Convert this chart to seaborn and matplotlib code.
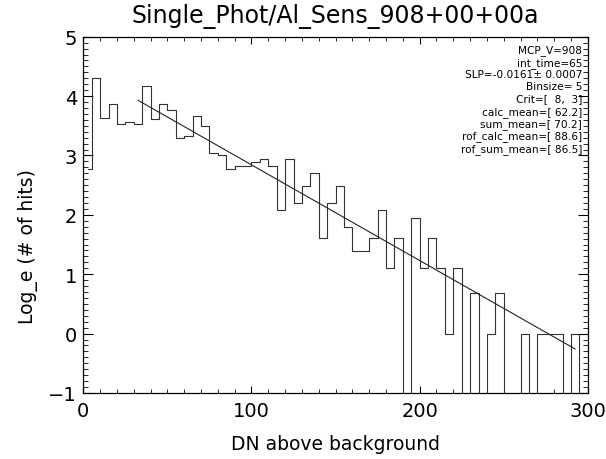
import numpy as np
import pandas as pd
import matplotlib
matplotlib.use("Agg")
import matplotlib.pyplot as plt
import seaborn as sns
from matplotlib.ticker import MultipleLocator

# ---- data ----
EMPTY = -5.0  # log_e(0): below the axis
bin_centers = [2.5 + 5 * i for i in range(60)]
log_hits = [
    2.77, 4.30, 3.63, 3.87, 3.53, 3.56, 3.53, 4.17, 3.61, 3.87,
    3.76, 3.30, 3.33, 3.66, 3.50, 3.04, 3.00, 2.77, 2.83, 2.83,
    2.89, 2.94, 2.83, 2.08, 2.94, 2.20, 2.48, 2.71, 1.61, 2.20,
    2.48, 1.79, 1.39, 1.39, 1.61, 2.08, 1.10, 1.61, EMPTY, 1.95,
    1.10, 1.61, 1.10, 0.00, 1.10, EMPTY, 0.69, EMPTY, 0.00, 0.69,
    EMPTY, EMPTY, 0.00, EMPTY, 0.00, 0.00, 0.00, EMPTY, 0.00, EMPTY,
]
fit_x = [32.5, 292.5]
fit_y = [3.93, -0.26]

title = "Single_Phot/Al_Sens_908+00+00a"
xlabel = "DN above background"
ylabel = "Log_e (# of hits)"
info_lines = [
    "MCP_V=908",
    "int_time=65",
    "SLP=-0.0161\u00b1 0.0007",
    "Binsize= 5",
    "Crit=[  8,  3]",
    "calc_mean=[ 62.2]",
    "sum_mean=[ 70.2]",
    "rof_calc_mean=[ 88.6]",
    "rof_sum_mean=[ 86.5]",
]
xticks = [0, 100, 200, 300]
yticks = [-1, 0, 1, 2, 3, 4, 5]

# ---- plot ----
sns.set_theme(style="ticks")
plt.rcParams["font.family"] = ["DejaVu Sans"]

fig = plt.figure(figsize=(6.06, 4.60), dpi=100)
ax = fig.add_axes([0.1375, 0.1435, 0.8325, 0.7745])

df = pd.DataFrame({"x": bin_centers, "y": log_hits})
sns.lineplot(data=df, x="x", y="y", ax=ax, estimator=None, sort=False,
             drawstyle="steps-mid", color="#333333", linewidth=0.8)
sns.lineplot(x=fit_x, y=fit_y, ax=ax, estimator=None, color="#222222",
             linewidth=0.8)

ax.set_xlim(0, 300)
ax.set_ylim(-1, 5)
ax.set_xticks(xticks)
ax.set_yticks(yticks)
ax.xaxis.set_minor_locator(MultipleLocator(10))
ax.yaxis.set_minor_locator(MultipleLocator(0.1))
ax.tick_params(axis="x", which="major", direction="in", length=5, width=0.8,
               top=True, bottom=True, labelsize=14, pad=6, colors="black")
ax.tick_params(axis="x", which="minor", direction="in", length=2.8, width=0.7,
               top=True, bottom=True)
ax.tick_params(axis="y", which="major", direction="in", length=7.2, width=0.8,
               left=True, right=True, labelsize=14, pad=4.5, colors="black")
ax.tick_params(axis="y", which="minor", direction="in", length=3.6, width=0.7,
               left=True, right=True)
for s in ax.spines.values():
    s.set_color("black")
    s.set_linewidth(0.9)

ax.set_xlabel(xlabel, fontsize=13.5, labelpad=9.5, color="black")
ax.set_ylabel(ylabel, fontsize=13.5, color="black")
ax.yaxis.set_label_coords(-0.09, 0.415)
fig.text(0.553, 0.965, title, ha="center", va="center", fontsize=17,
         color="black")

for i, line in enumerate(info_lines):
    ax.text(0.9885, 0.978 - i * 0.0344, line, transform=ax.transAxes,
            ha="right", va="top", fontsize=7.6, color="black")

fig.savefig("out.png", dpi=100)
